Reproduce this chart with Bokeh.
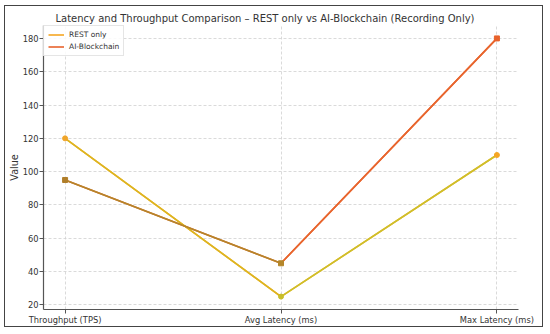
from bokeh.plotting import figure
from bokeh.models import Range1d, FixedTicker, Legend, LegendItem, ColumnDataSource
from bokeh.embed import file_html
from bokeh.resources import INLINE

categories = ["Throughput (TPS)", "Avg Latency (ms)", "Max Latency (ms)"]
rest_only = [120, 25, 110]
ai_blockchain = [95, 45, 180]
y_ticks = [20, 40, 60, 80, 100, 120, 140, 160, 180]

xs = list(range(len(categories)))

FONT = "DejaVu Sans"

p = figure(width=539, height=322,
           x_range=Range1d(-0.1, 2.1), y_range=Range1d(17.25, 187.75),
           output_backend="svg", toolbar_location=None,
           min_border_left=38, min_border_right=26, min_border_top=19, min_border_bottom=19,
           title="Latency and Throughput Comparison \u2013 REST only vs AI-Blockchain (Recording Only)")
p.styles = {"border": "1.5px solid #444", "margin": "5px 0 0 4px"}
p.outline_line_color = None
p.background_fill_color = "white"
p.border_fill_color = "white"

p.title.align = "left"
p.title.offset = 12
p.title.text_font = FONT
p.title.text_font_size = "10px"
p.title.text_font_style = "normal"
p.title.text_color = "#333333"
p.title.standoff = 3

# axes
p.xaxis.ticker = FixedTicker(ticks=xs)
p.xaxis.major_label_overrides = {i: c for i, c in zip(xs, categories)}
p.yaxis.ticker = FixedTicker(ticks=y_ticks)
p.yaxis.axis_label = "Value"
for ax in (p.xaxis[0], p.yaxis[0]):
    ax.axis_line_color = "#555555"
    ax.axis_line_width = 1.2
    ax.major_tick_line_color = "#555555"
    ax.major_tick_in = 0
    ax.major_tick_out = 4
    ax.minor_tick_line_color = None
    ax.major_label_text_font = FONT
    ax.major_label_text_font_size = "8.3px"
    ax.major_label_text_color = "#333333"
    ax.major_label_standoff = 1
    ax.axis_label_text_font = FONT
    ax.axis_label_text_font_size = "9.6px"
    ax.axis_label_text_font_style = "normal"
    ax.axis_label_text_color = "#333333"
p.xaxis.axis_label_standoff = 4
p.yaxis.axis_label_standoff = 0

p.grid.grid_line_color = "#d0d0d0"
p.grid.grid_line_dash = "3 2"
p.grid.grid_line_width = 0.8

# REST only
rest_line = p.line(xs, rest_only, line_color="#f5a623", line_width=1.6)
# AI-Blockchain
ai_line = p.line(xs, ai_blockchain, line_color="#e8622c", line_width=1.6)

# per-segment colour overlays
rest_seg_colors = ["#dcb620", "#cdc12a"]
ai_seg_colors = ["#b4862a", "#e8652d"]
p.segment(x0=xs[:-1], y0=rest_only[:-1], x1=xs[1:], y1=rest_only[1:],
          line_color=rest_seg_colors, line_width=1.6)
p.segment(x0=xs[:-1], y0=ai_blockchain[:-1], x1=xs[1:], y1=ai_blockchain[1:],
          line_color=ai_seg_colors, line_width=1.6)

rest_marker_colors = ["#f0a52a", "#c8be28", "#f5a623"]
ai_marker_colors = ["#b07e2a", "#b4862a", "#e8622c"]
p.scatter(xs, rest_only, marker="circle", size=5, fill_color=rest_marker_colors,
          line_color=rest_marker_colors)
p.scatter(xs, ai_blockchain, marker="square", size=5, fill_color=ai_marker_colors,
          line_color=ai_marker_colors)

empty = ColumnDataSource(data=dict(x=[], y=[]))
rest_leg = p.scatter("x", "y", source=empty, marker="circle", size=5,
                     fill_color="#f5a623", line_color="#f5a623")
ai_leg = p.scatter("x", "y", source=empty, marker="square", size=5,
                   fill_color="#e8622c", line_color="#e8622c")

legend = Legend(items=[
    LegendItem(label="REST only", renderers=[rest_line, rest_leg]),
    LegendItem(label="AI-Blockchain", renderers=[ai_line, ai_leg]),
], location="top_left")
legend.label_text_font = FONT
legend.label_text_font_size = "7.5px"
legend.label_text_color = "#333333"
legend.glyph_width = 16
legend.glyph_height = 9
legend.label_standoff = 5
legend.label_height = 9
legend.spacing = 3
legend.padding = 4
legend.margin = 0
legend.border_line_color = "#cccccc"
legend.border_line_width = 0.8
legend.background_fill_alpha = 0.85
p.add_layout(legend)

open("out.html", "w").write(file_html(p, INLINE))
